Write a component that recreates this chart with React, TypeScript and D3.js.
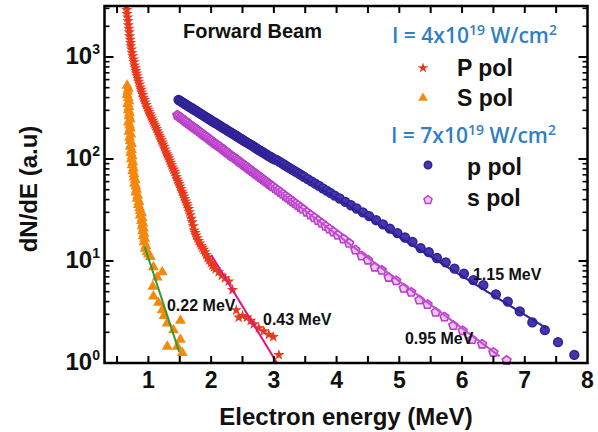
import React from 'react';
import * as d3 from 'd3';

const W = 598;
const H = 432;

// axes
const xDomain: [number, number] = [0.3, 8];
const yDomain: [number, number] = [1, 3162];
const xTickLabels = [1, 2, 3, 4, 5, 6, 7, 8];
const xTicks = [0.5, 1, 1.5, 2, 2.5, 3, 3.5, 4, 4.5, 5, 5.5, 6, 6.5, 7, 7.5];
const yDecades = [1, 10, 100, 1000];
const yDecadeExp = ['0', '1', '2', '3'];

// I = 4x10^19, P pol (stars)
const pPol4: [number, number][] = [
  [0.62, 4300], [0.63, 4000], [0.635, 3700], [0.64, 3450], [0.65, 3150], [0.655, 2900], [0.66, 2650],
  [0.67, 2450], [0.675, 2250], [0.68, 2050], [0.69, 1900], [0.695, 1750], [0.70, 1600], [0.71, 1480],
  [0.715, 1380], [0.72, 1280], [0.73, 1190], [0.74, 1100], [0.75, 1020], [0.76, 950], [0.77, 890],
  [0.78, 830], [0.79, 780], [0.80, 730], [0.81, 690], [0.82, 650], [0.835, 610], [0.845, 575],
  [0.86, 540], [0.87, 505], [0.885, 478], [0.895, 450], [0.91, 425], [0.92, 400], [0.935, 380],
  [0.95, 360], [0.965, 340], [0.98, 320], [0.995, 305], [1.01, 290], [1.025, 275], [1.04, 262],
  [1.055, 250], [1.07, 238], [1.085, 228], [1.10, 218], [1.115, 208], [1.13, 198], [1.145, 188],
  [1.16, 178], [1.175, 170], [1.19, 162], [1.205, 153], [1.22, 146], [1.235, 139], [1.25, 132],
  [1.265, 124], [1.28, 117], [1.295, 112], [1.31, 107], [1.325, 102], [1.34, 97], [1.355, 92],
  [1.37, 87], [1.385, 83], [1.40, 79], [1.415, 75], [1.43, 71], [1.445, 67], [1.46, 63],
  [1.475, 60], [1.49, 57], [1.505, 54], [1.52, 51], [1.535, 48], [1.55, 45.7], [1.565, 43],
  [1.58, 40.7], [1.595, 38.5], [1.61, 36.3], [1.625, 34.3], [1.64, 32.4], [1.655, 30.2], [1.67, 28.2],
  [1.685, 26], [1.70, 24], [1.715, 22], [1.73, 20], [1.745, 18.9], [1.76, 17.8], [1.78, 16.8],
  [1.80, 15.8], [1.82, 14.9], [1.84, 14.1], [1.86, 13.5], [1.88, 12.9], [1.90, 12.2], [1.92, 11.5],
  [1.945, 10.8], [1.97, 10.2], [1.995, 9.6], [2.02, 9.1], [2.045, 8.7], [2.07, 8.3], [2.12, 7.8],
  [2.17, 7.2], [2.22, 6.8], [2.28, 6.3], [2.34, 5.2], [2.40, 3.3], [2.44, 2.8], [2.50, 2.9],
  [2.57, 2.8], [2.63, 2.6], [2.68, 2.4], [2.76, 2.2], [2.84, 2.05], [2.92, 1.9], [2.99, 1.8], [3.08, 1.2],
];

// I = 4x10^19, S pol (triangles)
const sPol4: [number, number][] = [
  [0.66, 525], [0.68, 490], [0.67, 457], [0.66, 425], [0.68, 398], [0.69, 370], [0.67, 347],
  [0.69, 322], [0.68, 302], [0.70, 282], [0.69, 263], [0.71, 245], [0.68, 229], [0.70, 214],
  [0.71, 200], [0.69, 186], [0.72, 174], [0.70, 162], [0.71, 151], [0.73, 141], [0.71, 132],
  [0.73, 123], [0.72, 115], [0.74, 107], [0.73, 100], [0.75, 93], [0.74, 87], [0.76, 81],
  [0.75, 76], [0.77, 71], [0.77, 66], [0.79, 62], [0.78, 57.5], [0.80, 54], [0.81, 50],
  [0.80, 47], [0.83, 43.7], [0.82, 41], [0.85, 38], [0.84, 35.5], [0.86, 33.1], [0.87, 31],
  [0.89, 29.5], [0.87, 28], [0.90, 26.3], [0.89, 24.8], [0.91, 23.4], [0.90, 22], [0.92, 20.9],
  [0.91, 19.7], [0.93, 18.6], [0.92, 17.5], [0.94, 16.6], [0.93, 15.3], [0.96, 14.1], [0.95, 13.2],
  [0.98, 12.3], [1.00, 11.6], [1.03, 11.0], [1.08, 8.7], [1.22, 7.8], [1.14, 6.9], [1.07, 5.6],
  [1.08, 4.5], [1.16, 3.9], [1.22, 3.3], [1.51, 2.6], [1.30, 2.45], [1.40, 2.1], [1.51, 1.7],
  [1.46, 1.45], [1.30, 1.45], [1.54, 1.26], [1.25, 2.9],
];

// I = 7x10^19, p pol (circles)
const pPol7: [number, number][] = [
  [1.48, 380], [1.505, 371], [1.53, 363], [1.555, 355], [1.58, 347], [1.605, 340], [1.63, 332],
  [1.655, 325], [1.68, 318], [1.705, 311], [1.73, 304], [1.755, 298], [1.78, 291], [1.805, 285],
  [1.83, 279], [1.855, 272], [1.88, 266], [1.905, 260], [1.93, 255], [1.955, 249], [1.98, 244],
  [2.005, 238], [2.03, 233], [2.055, 228], [2.08, 223], [2.105, 218], [2.13, 214], [2.155, 209],
  [2.18, 204], [2.205, 200], [2.23, 196], [2.255, 191], [2.28, 187], [2.305, 183], [2.33, 179],
  [2.355, 175], [2.38, 171], [2.405, 168], [2.43, 164], [2.455, 160], [2.48, 157], [2.505, 154],
  [2.53, 150], [2.555, 147], [2.58, 144], [2.605, 141], [2.63, 138], [2.655, 135], [2.68, 132],
  [2.705, 129], [2.73, 126], [2.755, 123], [2.78, 121], [2.805, 118], [2.83, 116], [2.855, 113],
  [2.88, 111], [2.905, 108], [2.93, 106], [2.955, 104], [2.98, 101.5], [3.01, 99], [3.04, 98],
  [3.08, 94.7], [3.12, 91.4], [3.16, 88.3], [3.20, 85.3], [3.24, 82.4], [3.28, 79.6], [3.32, 76.9],
  [3.36, 74.3], [3.40, 71.8], [3.44, 69.4], [3.48, 67.0], [3.54, 63.6], [3.60, 60.4], [3.66, 57.3],
  [3.72, 54.4], [3.78, 51.6], [3.84, 49.0], [3.90, 46.5], [3.97, 43.8], [4.05, 41.0], [4.14, 38.0],
  [4.23, 35.2], [4.32, 32.7], [4.42, 30.0], [4.52, 27.6], [4.63, 25.1], [4.74, 22.9], [4.85, 20.8],
  [4.97, 18.8], [5.09, 17.0], [5.21, 15.4], [5.34, 13.4], [5.47, 12.2], [5.60, 10.7], [5.74, 9.7],
  [5.88, 8.4], [6.03, 7.5], [6.18, 6.5], [6.34, 5.8], [6.54, 4.7], [6.73, 4.0], [6.92, 3.2],
  [7.12, 2.5], [7.32, 2.1], [7.53, 1.6], [7.79, 1.2],
];

// I = 7x10^19, s pol (pentagons)
const sPol7: [number, number][] = [
  [1.46, 269], [1.485, 262], [1.51, 255], [1.535, 248], [1.56, 242], [1.585, 235], [1.61, 229],
  [1.635, 223], [1.66, 217], [1.685, 212], [1.71, 206], [1.735, 201], [1.76, 196], [1.785, 191],
  [1.81, 186], [1.835, 181], [1.86, 176], [1.885, 171], [1.91, 167], [1.935, 163], [1.96, 158],
  [1.985, 154], [2.01, 150], [2.035, 146], [2.06, 142], [2.085, 139], [2.11, 135], [2.135, 132],
  [2.16, 128], [2.185, 125], [2.21, 122], [2.235, 118], [2.26, 115], [2.285, 112], [2.31, 109],
  [2.335, 106], [2.36, 104], [2.385, 101], [2.41, 98.3], [2.435, 95.7], [2.46, 93.2], [2.485, 90.8],
  [2.51, 88.4], [2.535, 86.1], [2.56, 83.8], [2.585, 81.6], [2.61, 79.5], [2.635, 77.4], [2.66, 75.4],
  [2.685, 73.4], [2.71, 71.5], [2.735, 69.6], [2.76, 67.8], [2.785, 66.0], [2.81, 64.3], [2.835, 62.6],
  [2.86, 61.0], [2.885, 59.4], [2.91, 57.8], [2.935, 56.3], [2.96, 54.8], [2.985, 53.4], [3.025, 51.2],
  [3.065, 49.1], [3.105, 47.0], [3.145, 45.1], [3.185, 43.2], [3.225, 41.4], [3.265, 39.7], [3.305, 38.0],
  [3.345, 36.5], [3.385, 35.0], [3.425, 33.5], [3.465, 32.1], [3.525, 30.1], [3.585, 28.3], [3.645, 26.5],
  [3.705, 24.9], [3.765, 23.4], [3.825, 21.9], [3.885, 20.6], [3.95, 19.3], [4.02, 17.9], [4.11, 16.4],
  [4.20, 14.9], [4.30, 12.8], [4.40, 11.2], [4.50, 10.2], [4.61, 8.7], [4.72, 8.1], [4.83, 6.9],
  [4.95, 6.4], [5.07, 5.4], [5.19, 4.94], [5.32, 4.14], [5.45, 3.74], [5.58, 3.14], [5.72, 2.82],
  [5.86, 2.33], [6.01, 2.07], [6.16, 1.70], [6.32, 1.53], [6.50, 1.27], [6.71, 1.06],
];

// exponential fits (end points)
const fitS4: [number, number][] = [[0.94, 13.8], [1.49, 1.29]];
const fitP4: [number, number][] = [[2.0, 11.5], [3.05, 1.0]];
const fitP7: [number, number][] = [[1.48, 372], [7.33, 2.22]];
const fitS7: [number, number][] = [[1.46, 269], [6.6, 1.16]];

const fitLabels = ['0.22 MeV', '0.43 MeV', '1.15 MeV', '0.95 MeV'];
const fitLabelAt: [number, number][] = [[1.296, 3.24], [2.827, 2.36], [6.174, 6.5], [5.09, 1.54]];

const legendHeaders = ['I = 4x10', 'I = 7x10'];
const legendLabels = ['P pol', 'S pol', 'p pol', 's pol'];

const C = {
  red: '#e8391c',
  orange: '#f5880e',
  blue: '#2f2196',
  blueFill: '#4536ad',
  mag: '#b93fc9',
  magFill: '#efc6f2',
  magLine: '#c24dd2',
  redFit: '#e0157f',
  green: '#2f9a32',
  legend: '#2f7fc3',
};

const ML = 104.5, MR = 587.5, MT = 6, MB = 363;

function pentagon(r: number) {
  const pts = d3.range(5).map((i) => {
    const a = -Math.PI / 2 + (i * 2 * Math.PI) / 5;
    return [r * Math.cos(a), r * Math.sin(a)];
  });
  return 'M' + pts.map((p) => p[0].toFixed(2) + ',' + p[1].toFixed(2)).join('L') + 'Z';
}

export default function App() {
  const x = d3.scaleLinear().domain(xDomain).range([ML, MR]);
  const y = d3.scaleLog().domain(yDomain).range([MB, MT]);
  const line = d3.line<[number, number]>().x((d) => x(d[0])).y((d) => y(d[1]));
  const star = d3.symbol().type(d3.symbolStar).size(40)() as string;
  const starL = d3.symbol().type(d3.symbolStar).size(34)() as string;
  const tri = d3.symbol().type(d3.symbolTriangle).size(52)() as string;
  const triL = d3.symbol().type(d3.symbolTriangle).size(40)() as string;
  const pent = pentagon(4.6);
  const pentL = pentagon(4.3);

  const yMinor: number[] = [];
  yDecades.forEach((d) => {
    for (let k = 2; k <= 9; k++) if (d * k < yDomain[1]) yMinor.push(d * k);
  });

  const font = "'Liberation Sans', Arial, sans-serif";

  return (
    <svg width={W} height={H} style={{ position: 'absolute', left: 0, top: 0, background: '#fff' }} fontFamily={font}>
      <defs>
        <clipPath id="plot">
          <rect x={ML} y={MT} width={MR - ML} height={MB - MT + 6} />
        </clipPath>
      </defs>

      <g clipPath="url(#plot)">
        {pPol4.map((d, i) => (
          <path key={'r' + i} d={star} transform={`translate(${x(d[0])},${y(d[1])})`} fill={C.red} />
        ))}
        {sPol4.map((d, i) => (
          <path key={'o' + i} d={tri} transform={`translate(${x(d[0])},${y(d[1])})`} fill={C.orange} />
        ))}
        {sPol7.map((d, i) => (
          <path key={'m' + i} d={pent} transform={`translate(${x(d[0])},${y(d[1])})`} fill={C.magFill} stroke={C.mag} strokeWidth={1.6} />
        ))}
        {pPol7.map((d, i) => (
          <circle key={'b' + i} cx={x(d[0])} cy={y(d[1])} r={4.4} fill={C.blueFill} stroke={C.blue} strokeWidth={1.5} />
        ))}
        <path d={line(fitS4) as string} stroke={C.green} strokeWidth={2} fill="none" />
        <path d={line(fitP4) as string} stroke={C.redFit} strokeWidth={2} fill="none" />
        <path d={line(fitP7) as string} stroke={C.blue} strokeWidth={2} fill="none" />
        <path d={line(fitS7) as string} stroke={C.magLine} strokeWidth={2} fill="none" />
      </g>

      {fitLabels.map((t, i) => (
        <text key={t} x={x(fitLabelAt[i][0])} y={y(fitLabelAt[i][1])} fontSize={16} fontWeight="bold" fill="#111">
          {t}
        </text>
      ))}

      {/* frame */}
      <rect x={ML} y={MT} width={MR - ML} height={MB - MT} fill="none" stroke="#000" strokeWidth={2.5} />

      {/* x ticks */}
      {xTicks.map((t) => (
        <g key={'xt' + t}>
          <line x1={x(t)} x2={x(t)} y1={MB} y2={MB - 7} stroke="#000" strokeWidth={2} />
          <line x1={x(t)} x2={x(t)} y1={MT} y2={MT + 7} stroke="#000" strokeWidth={2} />
        </g>
      ))}
      {xTickLabels.map((t) => (
        <text key={'xl' + t} x={x(t)} y={388} textAnchor="middle" fontSize={23} fontWeight="bold" fill="#111">
          {t}
        </text>
      ))}

      {/* y ticks */}
      {yDecades.map((d, i) => (
        <g key={'yd' + d}>
          {i > 0 && <line x1={ML} x2={ML + 9} y1={y(d)} y2={y(d)} stroke="#000" strokeWidth={2} />}
          {i > 0 && <line x1={MR} x2={MR - 9} y1={y(d)} y2={y(d)} stroke="#000" strokeWidth={2} />}
          <text x={100} y={y(d) + 7} textAnchor="end" fontSize={24} fontWeight="bold" fill="#111">
            10
            <tspan dy={-10} fontSize={14}>
              {yDecadeExp[i]}
            </tspan>
          </text>
        </g>
      ))}
      {yMinor.map((d) => (
        <g key={'ym' + d}>
          <line x1={ML} x2={ML + 5} y1={y(d)} y2={y(d)} stroke="#000" strokeWidth={1.6} />
          <line x1={MR} x2={MR - 5} y1={y(d)} y2={y(d)} stroke="#000" strokeWidth={1.6} />
        </g>
      ))}

      {/* axis titles */}
      <text x={(ML + MR) / 2} y={425} textAnchor="middle" fontSize={24} fontWeight="bold" fill="#111">
        Electron energy (MeV)
      </text>
      <text transform="translate(37,189) rotate(-90)" textAnchor="middle" fontSize={24} fontWeight="bold" fill="#111">
        dN/dE (a.u)
      </text>

      <text x={183} y={38} fontSize={20} fontWeight="bold" fill="#111">
        Forward Beam
      </text>

      {/* legend */}
      <g fontFamily="'Open Sans', sans-serif" fontWeight={600} fontSize={21} fill={C.legend}>
        <text x={392} y={43}>
          {legendHeaders[0]}
          <tspan dy={-8} fontSize={14}>19</tspan>
          <tspan dy={8}> W/cm</tspan>
          <tspan dy={-8} fontSize={14}>2</tspan>
        </text>
        <text x={391} y={143}>
          {legendHeaders[1]}
          <tspan dy={-8} fontSize={14}>19</tspan>
          <tspan dy={8}> W/cm</tspan>
          <tspan dy={-8} fontSize={14}>2</tspan>
        </text>
      </g>
      <path d={starL} transform="translate(423,68)" fill={C.red} />
      <path d={triL} transform="translate(423,98)" fill={C.orange} />
      <circle cx={428} cy={165} r={3.8} fill={C.blueFill} stroke={C.blue} strokeWidth={1.4} />
      <path d={pentL} transform="translate(428,200)" fill={C.magFill} stroke={C.mag} strokeWidth={1.4} />
      <g fontSize={23} fontWeight="bold" fill="#111">
        <text x={457} y={76}>{legendLabels[0]}</text>
        <text x={457} y={106}>{legendLabels[1]}</text>
        <text x={467} y={175}>{legendLabels[2]}</text>
        <text x={467} y={206}>{legendLabels[3]}</text>
      </g>
    </svg>
  );
}
